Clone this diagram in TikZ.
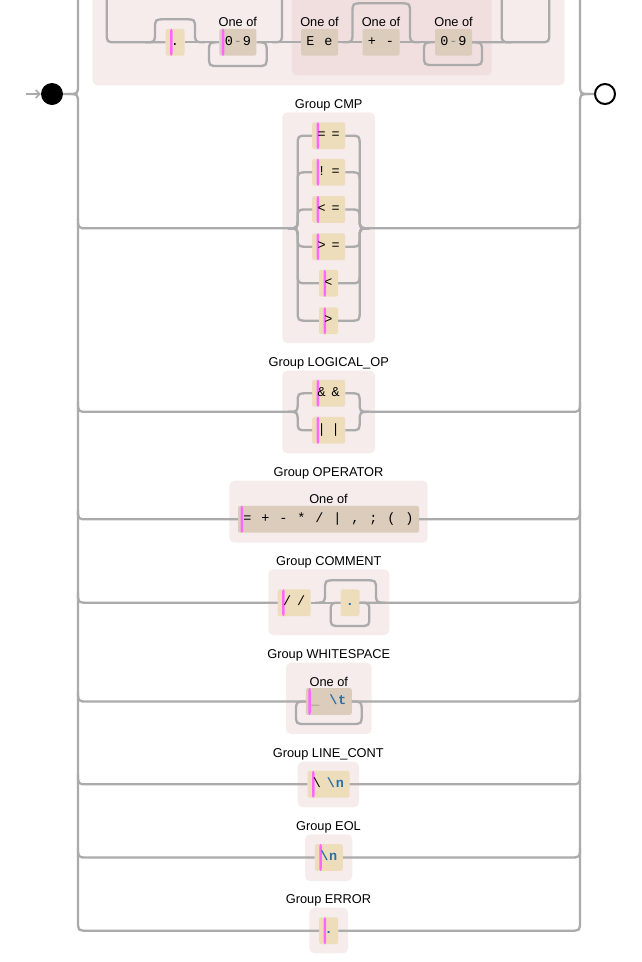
\documentclass[tikz,border=0pt]{standalone}
\usepackage{fontspec}
\setmainfont{Liberation Sans}
\newfontfamily\monof{Liberation Mono}
\usetikzlibrary{arrows.meta}
\definecolor{railc}{HTML}{ABABAB}
\definecolor{grpfill}{HTML}{F6ECEC}
\definecolor{grptwo}{HTML}{F1DFE0}
\definecolor{litfill}{HTML}{EEDDBB}
\definecolor{csfill}{HTML}{DCCCBB}
\definecolor{barc}{HTML}{FF66FF}
\definecolor{bluec}{HTML}{2A6EA6}
\definecolor{dashc}{HTML}{8A8A8A}
\newcommand\cel[1]{\makebox[9pt][c]{#1}}
\newcommand\escq[1]{\textcolor{bluec}{\bfseries\cel{\textbackslash}\cel{#1}}}
\newcommand\gsep{\hspace{5pt}}
\newcommand\mainL[2]{\draw[rail] (78,#1-10) .. controls (78,#1) .. (88,#1) -- (#2);}
\newcommand\mainR[2]{\draw[rail] (#2) -- (570,#1) .. controls (580,#1) .. (580,#1-10);}
\newcommand\altL[5]{\draw[rail] (#1,#2) .. controls (#1+9.7,#2) .. (#1+9.7,#2+10*#5) -- (#1+9.7,#3-10*#5) .. controls (#1+9.7,#3) .. (#1+19.4,#3) -- (#4);}
\newcommand\altR[5]{\draw[rail] (#1) -- (#2-19.4,#3) .. controls (#2-9.7,#3) .. (#2-9.7,#3-10*#5) -- (#2-9.7,#4+10*#5) .. controls (#2-9.7,#4) .. (#2,#4);}
\newcommand\loopB[4]{\draw[rail] (#2-10,#3) .. controls (#2,#3) .. (#2,#3+10) -- (#2,#4-10) .. controls (#2,#4) .. (#2-10,#4) -- (#1+10,#4) .. controls (#1,#4) .. (#1,#4-10) -- (#1,#3+10) .. controls (#1,#3) .. (#1+10,#3);}
\newcommand\skipA[4]{\draw[rail] (#1,#3) .. controls (#1+10,#3) .. (#1+10,#3-10) -- (#1+10,#4+10) .. controls (#1+10,#4) .. (#1+20,#4) -- (#2-20,#4) .. controls (#2-10,#4) .. (#2-10,#4+10) -- (#2-10,#3-10) .. controls (#2-10,#3) .. (#2,#3);}
\begin{document}
\begin{tikzpicture}[x=1pt,y=-1pt,
  rail/.style={draw=railc, line width=2.3pt},
  grp/.style={fill=grpfill, rounded corners=5pt},
  lit/.style={fill=litfill, rounded corners=2pt, minimum height=26.7pt, inner xsep=5pt, inner ysep=0pt, text height=9pt, text depth=2.5pt, font=\monof\fontsize{13.5}{13.5}\selectfont},
  cset/.style={lit, fill=csfill},
  litbar/.style={path picture={\fill[barc] ([xshift=4.5pt]path picture bounding box.north west) rectangle ([xshift=7pt]path picture bounding box.south west);}},
  csbar/.style={path picture={\fill[barc] ([xshift=2.5pt]path picture bounding box.north west) rectangle ([xshift=5pt]path picture bounding box.south west);}},
  lbl/.style={font=\fontsize{12.8}{12.8}\selectfont, inner sep=0pt}]
\useasboundingbox (0,0) rectangle (642,962);

% group backgrounds
\fill[grp] (92.3,-20) rectangle (564.7,85.3);
\fill[grptwo, rounded corners=5pt] (291.7,-20) rectangle (491.7,75.3);
\fill[grp] (282.3,112.3) rectangle (375,343);
\fill[grp] (282.3,370.7) rectangle (375,453.3);
\fill[grp] (229.3,480.7) rectangle (427.7,542.7);
\fill[grp] (268.3,569.3) rectangle (389.3,635);
\fill[grp] (286,662.7) rectangle (371.7,734);
\fill[grp] (297.7,761.7) rectangle (359,807.3);
\fill[grp] (305,834.3) rectangle (352.3,881);
\fill[grp] (309.3,907.7) rectangle (348,953.3);

% labels
\node[lbl] (gcmp) at (328.7,105.3) {Group CMP};
\node[lbl] (glog) at (328.7,363) {Group LOGICAL\_OP};
\node[lbl] (gop) at (328.5,473) {Group OPERATOR};
\node[lbl] (gcom) at (328.8,562.5) {Group COMMENT};
\node[lbl] (gws) at (328.8,655) {Group WHITESPACE};
\node[lbl] (glc) at (328.3,754) {Group LINE\_CONT};
\node[lbl] (geol) at (328.5,827.3) {Group EOL};
\node[lbl] (gerr) at (328.5,900.7) {Group ERROR};
\node[lbl] (of1) at (237.8,22.3) {One of};
\node[lbl] (of2) at (319.5,22.3) {One of};
\node[lbl] (of3) at (381,22.3) {One of};
\node[lbl] (of4) at (453.5,22.3) {One of};
\node[lbl] (of5) at (328.5,499.3) {One of};
\node[lbl] (of6) at (328.8,681.7) {One of};

% start / end
\node[circle, fill=black, minimum size=22pt, inner sep=0pt] (startc) at (52,94) {};
\node[circle, draw=black, line width=2pt, fill=white, minimum size=20pt, inner sep=0pt] (endc) at (605,94) {};

% top group boxes
\node[lit,litbar] (dotA) at (175,42.3) {\cel{.}};
\node[cset,csbar] (numA) at (237.8,42.3) {\cel{0}\cel{\textcolor{dashc}{-}}\cel{9}};
\node[cset] (expE) at (319.5,42.3) {\cel{E}\cel{}\cel{e}};
\node[cset] (expS) at (381,42.3) {\cel{+}\cel{}\cel{-}};
\node[cset] (numB) at (453.5,42.3) {\cel{0}\cel{\textcolor{dashc}{-}}\cel{9}};

% CMP
\node[lit,litbar] (eq) at (328.7,135.7) {\cel{=}\gsep\cel{=}};
\node[lit,litbar] (ne) at (328.7,172.3) {\cel{!}\gsep\cel{=}};
\node[lit,litbar] (le) at (328.7,209.5) {\cel{<}\gsep\cel{=}};
\node[lit,litbar] (ge) at (328.7,246.7) {\cel{>}\gsep\cel{=}};
\node[lit,litbar] (lt) at (328.5,283.3) {\cel{<}};
\node[lit,litbar] (gt) at (328.5,320.7) {\cel{>}};

% LOGICAL_OP
\node[lit,litbar] (andn) at (328.7,393.3) {\cel{\&}\gsep\cel{\&}};
\node[lit,litbar] (orn) at (328.7,430.3) {\cel{|}\gsep\cel{|}};

% OPERATOR
\node[cset,csbar] (ops) at (328.5,519.3) {\cel{=}\cel{}\cel{+}\cel{}\cel{-}\cel{}\cel{*}\cel{}\cel{/}\cel{}\cel{|}\cel{}\cel{,}\cel{}\cel{;}\cel{}\cel{(}\cel{}\cel{)}};

% COMMENT
\node[lit,litbar] (sl) at (294.2,602.7) {\cel{/}\gsep\cel{/}};
\node[lit] (anyc) at (350,602.7) {\cel{\textcolor{bluec}{\bfseries .}}};

% WHITESPACE
\node[cset,csbar] (ws) at (328.8,701.5) {\cel{\textcolor{dashc}{\_}}\cel{}\escq{t}};

% LINE_CONT, EOL, ERROR
\node[lit,litbar] (lc) at (328.5,784.3) {\cel{\textbackslash}\gsep\escq{n}};
\node[lit,litbar] (eol) at (328.8,857.5) {\escq{n}};
\node[lit,litbar] (err) at (328.7,930.7) {\cel{\textcolor{bluec}{\bfseries .}}};

% start arrow
\draw[railc, line width=1.5pt, -{Straight Barb[length=4pt,width=8pt]}] (26,94) -- (startc.west);

% main rails
\draw[rail] (startc.east) -- (68,94) .. controls (78,94) .. (78,84) -- (78,-5);
\draw[rail] (68,94) .. controls (78,94) .. (78,104) -- (78,920.7) .. controls (78,930.7) .. (88,930.7) -- (err.west);
\draw[rail] (580,-5) -- (580,84) .. controls (580,94) .. (590,94) -- (endc.west);
\draw[rail] (err.east) -- (570,930.7) .. controls (580,930.7) .. (580,920.7) -- (580,104) .. controls (580,94) .. (590,94);

% top group rails
\draw[rail] (106.7,-5) -- (106.7,32.3) .. controls (106.7,42.3) .. (116.7,42.3) -- (dotA.west);
\draw[rail] (dotA.east) -- (numA.west);
\draw[rail] (numA.east) -- (expE.west);
\draw[rail] (272,42.3) .. controls (282,42.3) .. (282,32.3) -- (282,-5);
\draw[rail] (expE.east) -- (expS.west);
\draw[rail] (expS.east) -- (numB.west);
\draw[rail] (numB.east) -- (539.3,42.3) .. controls (549.3,42.3) .. (549.3,32.3) -- (549.3,-5);
\draw[rail] (501.7,-5) -- (501.7,32.3) .. controls (501.7,42.3) .. (511.7,42.3);
\skipA{145}{205}{42.3}{19.3}
\skipA{342.5}{420}{42.3}{3.3}
\loopB{209}{266.7}{42.3}{66}
\loopB{424}{482}{42.3}{65}

% CMP rails
\mainL{228.3}{288,228.3}
\mainR{228.3}{369.4,228.3}
\altL{288}{228.3}{135.7}{eq.west}{-1}
\altL{288}{228.3}{172.3}{ne.west}{-1}
\altL{288}{228.3}{209.5}{le.west}{-1}
\altL{288}{228.3}{246.7}{ge.west}{1}
\altL{288}{228.3}{283.3}{lt.west}{1}
\altL{288}{228.3}{320.7}{gt.west}{1}
\altR{eq.east}{369.4}{135.7}{228.3}{-1}
\altR{ne.east}{369.4}{172.3}{228.3}{-1}
\altR{le.east}{369.4}{209.5}{228.3}{-1}
\altR{ge.east}{369.4}{246.7}{228.3}{1}
\altR{lt.east}{369.4}{283.3}{228.3}{1}
\altR{gt.east}{369.4}{320.7}{228.3}{1}

% LOGICAL rails
\mainL{411.8}{288,411.8}
\mainR{411.8}{369.4,411.8}
\altL{288}{411.8}{393.3}{andn.west}{-1}
\altL{288}{411.8}{430.3}{orn.west}{1}
\altR{andn.east}{369.4}{393.3}{411.8}{-1}
\altR{orn.east}{369.4}{430.3}{411.8}{1}

% OPERATOR rails
\mainL{519.3}{ops.west}
\mainR{519.3}{ops.east}

% COMMENT rails
\mainL{602.7}{sl.west}
\draw[rail] (sl.east) -- (anyc.west);
\mainR{602.7}{anyc.east}
\skipA{315}{386}{602.7}{580.3}
\loopB{330.7}{369.3}{602.7}{626}

% WHITESPACE rails
\mainL{701.5}{ws.west}
\mainR{701.5}{ws.east}
\loopB{296}{361.7}{701.5}{724}

% LINE_CONT, EOL rails
\mainL{784.3}{lc.west}
\mainR{784.3}{lc.east}
\mainL{857.5}{eol.west}
\mainR{857.5}{eol.east}
\end{tikzpicture}
\end{document}
